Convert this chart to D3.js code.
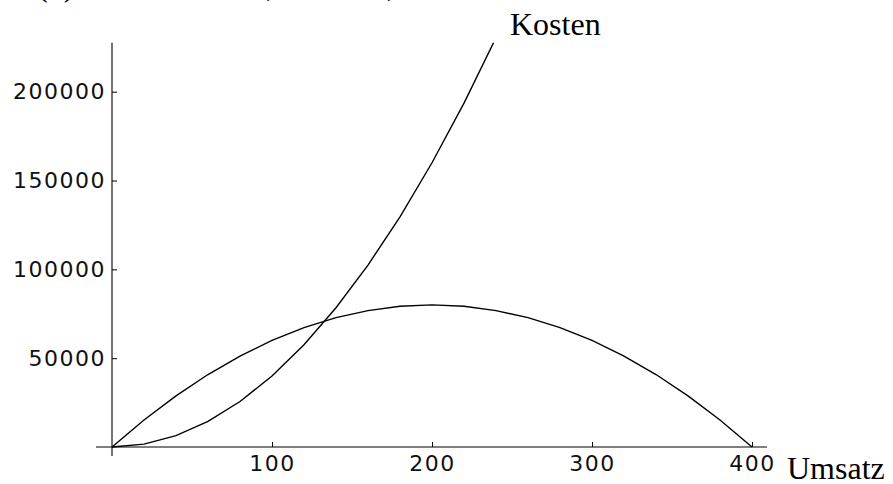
<!DOCTYPE html>
<meta charset="utf-8">
<style>
  body { margin: 0; background: #fff; }
  svg { display: block; }
</style>
<svg width="893" height="484"></svg>
<script src="https://d3js.org/d3.v7.min.js"></script>
<script>

// values
var umsatzX = [0, 20, 40, 60, 80, 100, 120, 140, 160, 180, 200, 220, 240, 260, 280, 300, 320, 340, 360, 380, 400];
var erloes   = [0, 15200, 28800, 40800, 51200, 60000, 67200, 72800, 76800, 79200, 80000, 79200, 76800, 72800, 67200, 60000, 51200, 40800, 28800, 15200, 0];
var kostenX  = [0, 20, 40, 60, 80, 100, 120, 140, 160, 180, 200, 220, 240];
var kosten   = [0, 1600, 6400, 14400, 25600, 40000, 57600, 78400, 102400, 129600, 160000, 193600, 230400];
var xTicks = [100, 200, 300, 400];
var yTicks = [50000, 100000, 150000, 200000];

var svg = d3.select("svg");

var x = d3.scaleLinear().domain([0, 400]).range([112, 752]),
    y = d3.scaleLinear().domain([0, 200000]).range([447, 91.7]);

var yTop = 227500;

svg.append("defs").append("clipPath").attr("id", "clip")
  .append("rect")
    .attr("x", x(-10)).attr("y", y(yTop))
    .attr("width", x(420) - x(-10)).attr("height", y(-5000) - y(yTop));

// plot label, cut off at the top edge as in the original
var title = svg.append("text")
    .attr("y", -4)
    .attr("font-family", "Liberation Serif, serif")
    .attr("font-size", 32)
    .attr("fill", "#000");
title.append("tspan").attr("x", 14).text("K(x) = 4x");
title.append("tspan").attr("x", 266).text(",");
title.append("tspan").attr("x", 300).text("x");
title.append("tspan").attr("x", 344).text("[10,");
title.append("tspan").attr("x", 396).text("20]");

// axes
var tickFont = "DejaVu Sans, sans-serif";

var gx = svg.append("g").attr("transform", "translate(0," + y(0) + ")");
gx.call(d3.axisBottom(x).tickValues(d3.range(20, 401, 20).filter(function(d) { return d % 100; }))
    .tickSize(-3).tickFormat(""));
gx.call(d3.axisBottom(x).tickValues(xTicks).tickSize(-5).tickPadding(8));
gx.selectAll(".domain").remove();

var gy = svg.append("g").attr("transform", "translate(" + x(0) + ",0)");
gy.call(d3.axisLeft(y).tickValues(d3.range(10000, 220001, 10000).filter(function(d) { return d % 50000; }))
    .tickSize(-3).tickFormat(""));
gy.call(d3.axisLeft(y).tickValues(yTicks).tickSize(-5).tickPadding(6).tickFormat(d3.format("d")));
gy.selectAll(".domain").remove();

svg.selectAll(".tick line").attr("stroke", "#000");
svg.selectAll(".tick text")
    .attr("font-family", tickFont)
    .attr("font-size", 22)
    .attr("letter-spacing", 1.5)
    .attr("fill", "#111");

svg.append("line")
    .attr("x1", 96).attr("x2", 767)
    .attr("y1", y(0)).attr("y2", y(0))
    .attr("stroke", "#000").attr("stroke-width", 1.1);
svg.append("line")
    .attr("x1", x(0)).attr("x2", x(0))
    .attr("y1", 456).attr("y2", y(yTop))
    .attr("stroke", "#000").attr("stroke-width", 1.1);

// curves
var line = d3.line()
    .x(function(d) { return x(d[0]); })
    .y(function(d) { return y(d[1]); });

var plot = svg.append("g").attr("clip-path", "url(#clip)")
    .attr("fill", "none").attr("stroke", "#000").attr("stroke-width", 1.4);

plot.append("path").attr("d", line(d3.zip(umsatzX, erloes)));
plot.append("path").attr("d", line(d3.zip(kostenX, kosten)));

// axis labels
svg.append("text")
    .attr("x", 510).attr("y", 35)
    .attr("font-family", "Liberation Serif, serif")
    .attr("font-size", 32)
    .text("Kosten");
svg.append("text")
    .attr("x", 787).attr("y", 479)
    .attr("font-family", "Liberation Serif, serif")
    .attr("font-size", 32)
    .text("Umsatz");

</script>
